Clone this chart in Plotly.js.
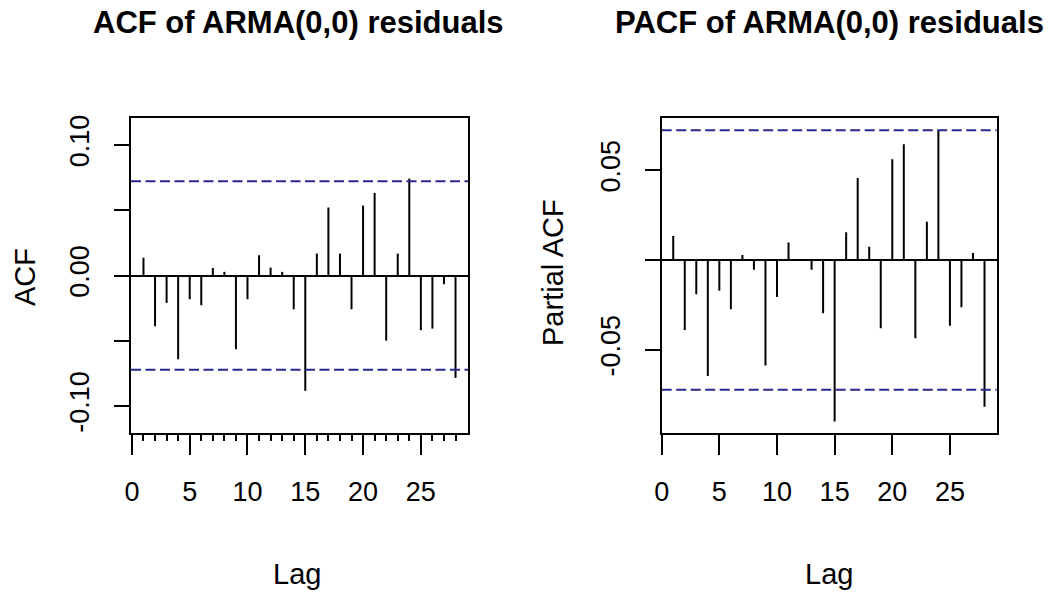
<!DOCTYPE html>
<html>
<head>
<meta charset="utf-8">
<script src="https://cdn.plot.ly/plotly-3.0.1.min.js"></script>
<style>
  html, body { margin: 0; padding: 0; background: #ffffff; }
  #chart { width: 1049px; height: 594px; }
</style>
</head>
<body>
<div id="chart"></div>
<script>
// Residual diagnostics for an ARMA(0,0) fit: sample ACF and PACF, lags 1-28
const lags = [1, 2, 3, 4, 5, 6, 7, 8, 9, 10, 11, 12, 13, 14, 15, 16, 17, 18, 19, 20, 21, 22, 23, 24, 25, 26, 27, 28];

const acfValues = [0.0136, -0.0389, -0.0210, -0.0642, -0.0182, -0.0228, 0.0058, 0.0028,
  -0.0565, -0.0182, 0.0155, 0.0061, 0.0028, -0.0259, -0.0884, 0.0168, 0.0521, 0.0168,
  -0.0259, 0.0536, 0.0633, -0.0499, 0.0168, 0.0743, -0.0419, -0.0407, -0.0067, -0.0785];

const pacfValues = [0.0134, -0.0390, -0.0191, -0.0646, -0.0171, -0.0275, 0.0028, -0.0054,
  -0.0588, -0.0206, 0.0097, 0.0003, -0.0054, -0.0297, -0.0900, 0.0154, 0.0457, 0.0074,
  -0.0380, 0.0561, 0.0644, -0.0436, 0.0213, 0.0718, -0.0367, -0.0264, 0.0039, -0.0818];

// approximate 95% bounds, +-1.96/sqrt(n)
const confLimit = 0.0723;

const lagTicks = [0, 5, 10, 15, 20, 25];
const acfTickVals = [-0.10, -0.05, 0.00, 0.05, 0.10];
const acfTickText = ['-0.10', '', '0.00', '', '0.10'];
const pacfTickVals = [-0.05, 0.00, 0.05];
const pacfTickText = ['-0.05', '', '0.05'];

const titles = ['ACF of ARMA(0,0) residuals', 'PACF of ARMA(0,0) residuals'];
const yTitles = ['ACF', 'Partial ACF'];
const xTitle = 'Lag';

const W = 1049, H = 594;
const FONT = 'Liberation Sans, Arial, Helvetica, sans-serif';
const confColor = '#28288f';

// vertical spikes from zero to each value
function spikes(values, xa, ya) {
  const xs = [], ys = [];
  lags.forEach((lag, i) => {
    xs.push(lag, lag, null);
    ys.push(0, values[i], null);
  });
  return {
    x: xs, y: ys, xaxis: xa, yaxis: ya,
    type: 'scatter', mode: 'lines',
    line: { color: '#000000', width: 2 },
    hoverinfo: 'skip', showlegend: false
  };
}

const px = v => v / W;
const py = v => 1 - v / H;

const frame = {
  showgrid: false, showline: true, mirror: true,
  linecolor: '#000000', linewidth: 2,
  ticks: 'outside', tickcolor: '#000000', tickwidth: 2,
  tickfont: { family: FONT, size: 27, color: '#000000' }
};

const xBase = Object.assign({}, frame, {
  tickmode: 'array', tickvals: lagTicks, ticklen: 20,
  ticklabelstandoff: 14, zeroline: false
});
const yBase = Object.assign({}, frame, {
  tickmode: 'array', ticklen: 15, tickangle: -90,
  ticklabelstandoff: 14,
  zeroline: true, zerolinecolor: '#000000', zerolinewidth: 2
});

const layout = {
  width: W, height: H,
  margin: { l: 0, r: 0, t: 0, b: 0 },
  paper_bgcolor: '#ffffff', plot_bgcolor: '#ffffff',
  showlegend: false,
  xaxis: Object.assign({}, xBase, {
    domain: [px(131), px(468)], range: [-0.08, 29.08], anchor: 'y',
    minor: { tickmode: 'array', tickvals: lags, ticks: 'outside', ticklen: 6, tickwidth: 2, tickcolor: '#000000' }
  }),
  yaxis: Object.assign({}, yBase, {
    domain: [py(433), py(118)], range: [-0.1207, 0.1207], anchor: 'x',
    tickvals: acfTickVals, ticktext: acfTickText
  }),
  xaxis2: Object.assign({}, xBase, {
    domain: [px(661.7), px(996.5)], range: [0, 29.04], anchor: 'y2'
  }),
  yaxis2: Object.assign({}, yBase, {
    domain: [py(432.7), py(118.3)], range: [-0.0962, 0.0789], anchor: 'x2',
    tickvals: pacfTickVals, ticktext: pacfTickText
  }),
  shapes: [
    ['x domain', 'y'], ['x2 domain', 'y2']
  ].flatMap(([xr, yr]) => [confLimit, -confLimit].map(v => ({
    type: 'line', xref: xr, yref: yr, x0: 0, x1: 1, y0: v, y1: v,
    line: { color: confColor, width: 2, dash: '10px,4.5px' }
  }))),
  annotations: [
    { text: titles[0], x: px(298.5), y: py(23), font: { size: 31, weight: 'bold' } },
    { text: titles[1], x: px(829), y: py(23), font: { size: 31, weight: 'bold' } },
    { text: yTitles[0], x: px(25), y: py(277), textangle: -90, font: { size: 29 } },
    { text: yTitles[1], x: px(553), y: py(273), textangle: -90, font: { size: 29 } },
    { text: xTitle, x: px(297), y: py(574), font: { size: 29 } },
    { text: xTitle, x: px(829), y: py(574), font: { size: 29 } }
  ].map(a => Object.assign({
    xref: 'paper', yref: 'paper', showarrow: false,
    xanchor: 'center', yanchor: 'middle'
  }, a, { font: Object.assign({ family: FONT, color: '#000000' }, a.font) }))
};

const data = [
  spikes(acfValues, 'x', 'y'),
  spikes(pacfValues, 'x2', 'y2')
];

Plotly.newPlot('chart', data, layout, { staticPlot: true, displayModeBar: false });
</script>
</body>
</html>
